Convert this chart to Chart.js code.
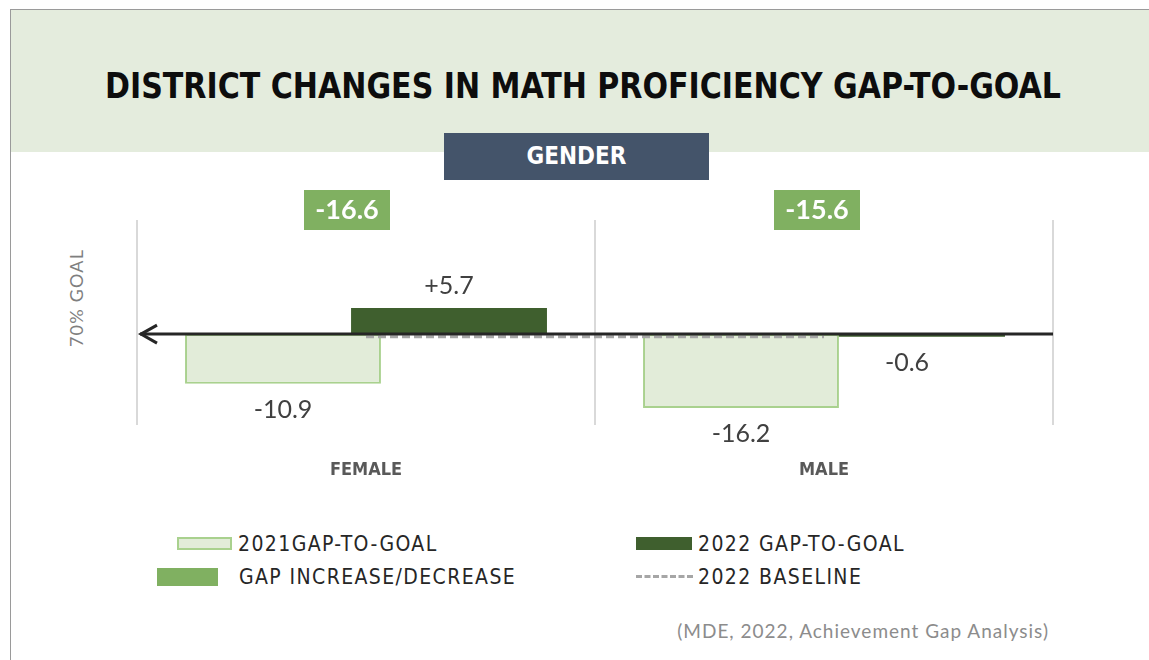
<!DOCTYPE html>
<html>
<head>
<meta charset="utf-8">
<script src="https://cdn.jsdelivr.net/npm/chart.js@4.4.1/dist/chart.umd.min.js"></script>
<style>
  html, body { margin: 0; padding: 0; background: #fff; }
  body { width: 1149px; height: 660px; position: relative; overflow: hidden; }
  #frame { position: absolute; left: 10px; top: 9px; width: 1300px; height: 800px; border-left: 1px solid #9a9a9a; border-top: 1px solid #9a9a9a; }
  #band { position: absolute; left: 11px; top: 10px; right: 0; height: 142px; background: #e4ecdd; }
  #title { position: absolute; left: 0; width: 1166px; top: 66px; text-align: center; font: bold 35px "DejaVu Sans Condensed", sans-serif; color: #0d0d0d; transform: scaleX(0.955); }
  #gender { position: absolute; left: 444px; top: 133px; width: 265px; height: 47px; background: #44546a; color: #fff; font: bold 24px "DejaVu Sans Condensed", sans-serif; text-align: center; line-height: 47px; }
  #goal { position: absolute; left: 76px; top: 298px; transform: translate(-50%, -50%) rotate(-90deg); font: 18px Lato, sans-serif; letter-spacing: 1.2px; color: #7f7f7f; white-space: nowrap; }
  .sw { position: absolute; box-sizing: border-box; }
  .lt { position: absolute; font: 21px "DejaVu Sans Condensed", sans-serif; letter-spacing: 1.4px; color: #262626; white-space: nowrap; line-height: 20px; }
  #source { position: absolute; right: 100px; top: 619px; font: 19px Lato, sans-serif; letter-spacing: 1px; color: #8c8c8c; white-space: nowrap; }
  #chart { position: absolute; left: 0; top: 0; }
</style>
</head>
<body>
<div id="frame"></div>
<div id="band"></div>
<div id="title">DISTRICT CHANGES IN MATH PROFICIENCY GAP-TO-GOAL</div>
<div id="gender">GENDER</div>
<div id="goal">70% GOAL</div>

<div class="sw" style="left:177px;top:537px;width:55px;height:13px;background:#e2ecd9;border:2px solid #a9d18e;"></div>
<div class="lt" style="left:238px;top:534px;">2021GAP-TO-GOAL</div>
<div class="sw" style="left:157px;top:568px;width:61px;height:18px;background:#80b061;"></div>
<div class="lt" style="left:239px;top:567px;">GAP INCREASE/DECREASE</div>
<div class="sw" style="left:636px;top:537px;width:56px;height:13px;background:#3f5f2e;"></div>
<div class="lt" style="left:698px;top:534px;">2022 GAP-TO-GOAL</div>
<div class="sw" style="left:636px;top:575px;width:57px;height:0;border-top:3px dashed #a6a6a6;"></div>
<div class="lt" style="left:698px;top:567px;">2022 BASELINE</div>

<div id="source">(MDE, 2022, Achievement Gap Analysis)</div>

<canvas id="chart" width="1149" height="660"></canvas>

<script>
// データ
const categories = ['FEMALE', 'MALE'];
const gap2021 = [-10.9, -16.2];
const gap2022 = [5.7, -0.6];
const gapChange = [-16.6, -15.6];
const baseline2022 = [-0.6, -0.6];

function fmt(v) {
  return (v > 0 ? '+' : '') + v.toFixed(1);
}

// ゼロ線の矢印
const arrowPlugin = {
  id: 'arrowLine',
  afterDatasetsDraw(chart) {
    const ctx = chart.ctx;
    const area = chart.chartArea;
    const y0 = chart.scales.y.getPixelForValue(0);
    const tip = area.left + 3;
    ctx.save();
    ctx.strokeStyle = '#262626';
    ctx.lineWidth = 3;
    ctx.beginPath();
    ctx.moveTo(tip, y0);
    ctx.lineTo(area.right, y0);
    ctx.stroke();
    ctx.lineJoin = 'miter';
    ctx.beginPath();
    ctx.moveTo(tip + 17, y0 - 9);
    ctx.lineTo(tip + 1, y0);
    ctx.lineTo(tip + 17, y0 + 9);
    ctx.stroke();
    ctx.restore();
  }
};

// 値ラベルと増減ボックス
const labelPlugin = {
  id: 'valueLabels',
  afterDraw(chart) {
    const ctx = chart.ctx;
    ctx.save();
    ctx.textAlign = 'center';
    ctx.textBaseline = 'middle';
    ctx.font = '25px Lato, sans-serif';
    ctx.fillStyle = '#404040';
    [0, 1].forEach(di => {
      const meta = chart.getDatasetMeta(di);
      const vals = chart.data.datasets[di].data;
      meta.data.forEach((bar, i) => {
        const v = vals[i];
        const y = v >= 0 ? bar.y - 22 : bar.y + 26;
        ctx.fillText(fmt(v), bar.x, y);
      });
    });

    const nudge = [-19, -7];
    const xs = chart.scales.x;
    gapChange.forEach((v, i) => {
      const cx = xs.getPixelForValue(i) + nudge[i];
      ctx.fillStyle = '#80b061';
      ctx.fillRect(cx - 43, 190, 86, 40);
      ctx.fillStyle = '#ffffff';
      ctx.font = 'bold 27px Lato, sans-serif';
      ctx.fillText(fmt(v), cx, 210);
    });
    ctx.restore();
  }
};

new Chart(document.getElementById('chart'), {
  type: 'bar',
  data: {
    labels: categories,
    datasets: [
      {
        label: '2021GAP-TO-GOAL',
        data: gap2021,
        backgroundColor: '#e2ecd9',
        borderColor: '#a9d18e',
        borderWidth: 2,
        borderSkipped: false,
        categoryPercentage: 0.725,
        barPercentage: 1.18
      },
      {
        label: '2022 GAP-TO-GOAL',
        data: gap2022,
        backgroundColor: '#3f5f2e',
        borderWidth: 0,
        categoryPercentage: 0.725,
        barPercentage: 1.18
      },
      {
        type: 'line',
        label: '2022 BASELINE',
        data: baseline2022,
        borderColor: '#a6a6a6',
        borderWidth: 3,
        borderDash: [8, 4],
        pointRadius: 0,
        fill: false,
        order: -1
      }
    ]
  },
  options: {
    responsive: false,
    animation: false,
    layout: { padding: { left: 137, right: 96, top: 220, bottom: 145 } },
    plugins: {
      legend: { display: false },
      tooltip: { enabled: false }
    },
    scales: {
      x: {
        grid: { offset: true, color: '#d9d9d9', lineWidth: 2, drawTicks: false },
        border: { display: false },
        ticks: {
          padding: 34,
          color: '#595959',
          font: { family: '"DejaVu Sans Condensed", sans-serif', size: 18, weight: 'bold' }
        }
      },
      y: {
        display: false,
        min: -20,
        max: 25
      }
    }
  },
  plugins: [arrowPlugin, labelPlugin]
});
</script>
</body>
</html>
